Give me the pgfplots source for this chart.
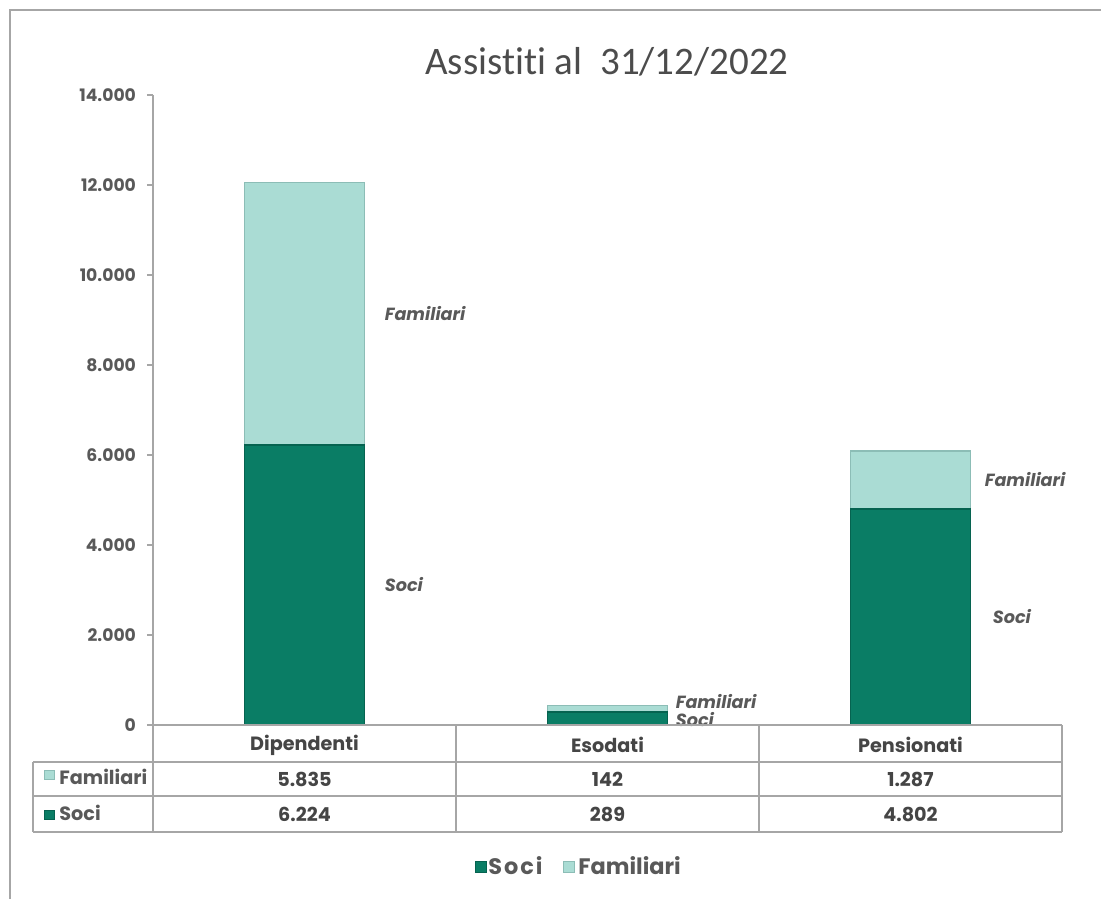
\documentclass[border=0pt]{standalone}
\usepackage{fontspec}
\setmainfont{Poppins}
\newfontfamily\titlefont[Ligatures=NoCommon]{Carlito}
\usepackage{pgfplots}
\pgfplotsset{compat=1.18}
\definecolor{soci}{HTML}{0A7D65}
\definecolor{socid}{HTML}{066350}
\definecolor{fam}{HTML}{AADCD4}
\definecolor{famd}{HTML}{8CBDB6}
\definecolor{txt}{HTML}{595959}
\definecolor{tabtxt}{HTML}{454545}
\definecolor{lin}{HTML}{A6A6A6}
\tikzset{blab/.style={anchor=west, font=\fontsize{8.8}{10}\selectfont\bfseries\itshape, text=txt, inner sep=0pt}}
\begin{document}
\begin{tikzpicture}
\begin{axis}[
  scale only axis, width=454.5pt, height=315pt,
  xmin=-0.5, xmax=2.5, ymin=0, ymax=14000,
  ybar stacked, bar width=60pt,
  clip=false,
  axis x line=none,
  axis y line*=left,
  y axis line style={lin, line width=0.6pt},
  ytick={0,2000,4000,6000,8000,10000,12000,14000},
  scaled y ticks=false,
  tick align=outside,
  major tick length=3pt,
  ytick style={lin, line width=0.6pt},
  yticklabel style={font=\fontsize{8.6}{10}\selectfont\bfseries, text=txt, xshift=-2pt,
    /pgf/number format/fixed, /pgf/number format/precision=0,
    /pgf/number format/1000 sep={.}, /pgf/number format/assume math mode=true},
]
\addplot[fill=soci, draw=socid, line width=0.8pt] coordinates {(0,6224) (1,289) (2,4802)};
\addplot[fill=fam, draw=famd, line width=0.8pt] coordinates {(0,5835) (1,142) (2,1287)};
\node[blab, xshift=40pt] at (axis cs:0,3112) {Soci};
\node[blab, xshift=40pt] at (axis cs:0,9141) {Familiari};
\node[blab, xshift=34pt] at (axis cs:1,120) {Soci};
\node[blab, xshift=34pt] at (axis cs:1,530) {Familiari};
\node[blab, xshift=41pt] at (axis cs:2,2401) {Soci};
\node[blab, xshift=37pt] at (axis cs:2,5445) {Familiari};
\end{axis}
\begin{scope}[x=0.5pt,y=-0.5pt,shift={(-76.5pt,362.5pt)}]
\path[use as bounding box] (0,0) rectangle (1101,899);
\draw[lin, line width=0.8pt] (10,899) -- (10,10) -- (1101,10);
\node[font=\titlefont\fontsize{19.5}{24}\selectfont, text=txt!85!black] at (607,62) {Assistiti al\ \ 31/12/2022};
% table
\begin{scope}[lin, line width=0.7pt]
\draw (153,725) -- (1062,725);
\draw (33,762) -- (1062,762);
\draw (33,796) -- (1062,796);
\draw (33,832) -- (1062,832);
\draw (33,762) -- (33,832);
\foreach \xx in {153,456,759,1062} \draw (\xx,725) -- (\xx,832);
\end{scope}
\begin{scope}[every node/.style={font=\bfseries\fontsize{9.6}{12}\selectfont, text=tabtxt}]
\node at (304.5,745) {Dipendenti};
\node at (607.5,745) {Esodati};
\node at (910.5,745) {Pensionati};
\node at (304.5,779) {5.835};
\node at (607.5,779) {142};
\node at (910.5,779) {1.287};
\node at (304.5,814) {6.224};
\node at (607.5,814) {289};
\node at (910.5,814) {4.802};
\end{scope}
\fill[fam, draw=famd, line width=0.5pt] (45,770) rectangle (55,779);
\fill[soci, draw=socid, line width=0.5pt] (45,810) rectangle (55,819);
\node[anchor=west, font=\bfseries\fontsize{9.6}{12}\selectfont, text=txt, inner sep=0pt] at (59,777) {Familiari};
\node[anchor=west, font=\bfseries\fontsize{9.6}{12}\selectfont, text=txt, inner sep=0pt] at (59,813) {Soci};
% legend
\fill[soci, draw=socid, line width=0.5pt] (475,861) rectangle (486,872);
\node[anchor=west, font=\bfseries\fontsize{11.2}{14}\selectfont, text=txt, inner sep=0pt] at (488,866) {S\kern1pt o\kern1pt c\kern1pt i};
\fill[fam, draw=famd, line width=0.5pt] (563,861) rectangle (574,872);
\node[anchor=west, font=\bfseries\fontsize{11.2}{14}\selectfont, text=txt, inner sep=0pt] at (578,866) {Familiari};
\end{scope}
\end{tikzpicture}
\end{document}
